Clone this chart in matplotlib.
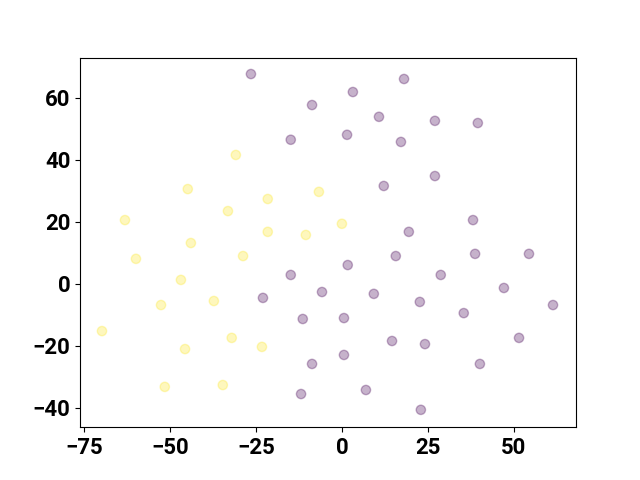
import numpy as np
import matplotlib
matplotlib.use("Agg")
import matplotlib.pyplot as plt

# cluster 0 (yellow in viridis), cluster 1 (purple)
x_yellow = [-69.9, -63.2, -60.0, -52.7, -51.6, -46.9, -45.7, -44.9, -44.0, -37.3, -34.7,
            -33.2, -32.1, -30.9, -28.8, -23.3, -21.6, -21.6, -10.5, -6.7, 0.0]
y_yellow = [-15.2, 20.6, 8.1, -6.8, -33.2, 1.3, -21.0, 30.6, 13.2, -5.5, -32.6,
            23.5, -17.4, 41.6, 9.0, -20.3, 27.4, 16.8, 15.8, 29.7, 19.4]

x_purple = [-26.5, -8.7, -14.9, 3.2, 18.1, 10.8, 1.5, 27.1, 39.6, 17.2, 27.1, 12.2, 38.2,
            19.5, 38.8, 54.5, 1.7, 15.7, 28.8, -5.8, 9.3, 22.7, 47.2, 61.5, 0.6, 35.5,
            14.6, 24.2, 51.6, 0.6, 40.2, 7.0, 23.0, -14.9, -23.0, -11.4, -8.7, -11.9]
y_purple = [67.7, 57.7, 46.5, 61.9, 66.1, 53.9, 48.1, 52.6, 51.9, 45.8, 34.8, 31.6, 20.6,
            16.8, 9.7, 9.7, 6.1, 9.0, 2.9, -2.6, -3.2, -5.8, -1.3, -6.8, -11.0, -9.4,
            -18.4, -19.4, -17.4, -22.9, -25.8, -34.2, -40.6, 2.9, -4.5, -11.3, -25.8, -35.5]

x = np.array(x_yellow + x_purple)
y = np.array(y_yellow + y_purple)
labels = np.array([1] * len(x_yellow) + [0] * len(x_purple))

plt.rcParams['font.family'] = ['Roboto', 'DejaVu Sans']
plt.rcParams['font.weight'] = 'bold'

fig, ax = plt.subplots(figsize=(6.4, 4.8), dpi=100)
ax.scatter(x, y, c=labels, cmap='viridis', alpha=0.3, s=45)
ax.set_xlim(-76.3, 68.2)
ax.set_ylim(-46.2, 73.0)
ax.set_xticks([-75, -50, -25, 0, 25, 50])
ax.set_yticks([-40, -20, 0, 20, 40, 60])
ax.tick_params(labelsize=16)
for lab in ax.get_xticklabels() + ax.get_yticklabels():
    lab.set_fontweight('bold')

plt.savefig('out.png', dpi=100)
